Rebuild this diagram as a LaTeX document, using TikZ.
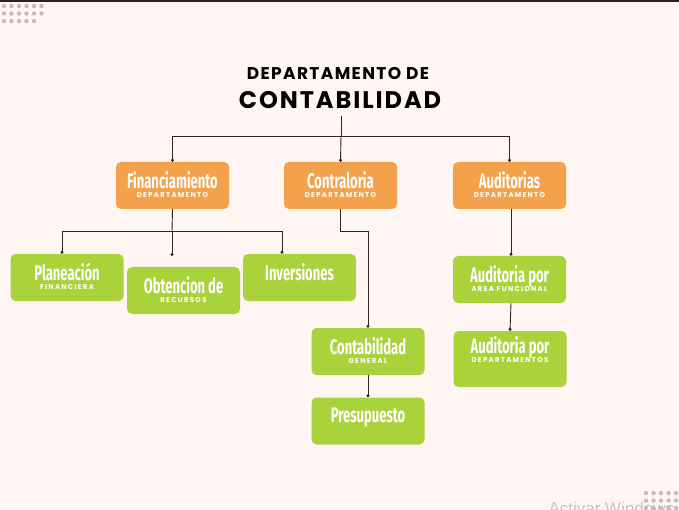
\documentclass[tikz,border=0pt]{standalone}
\usepackage{fontspec}
\setmainfont{Poppins}
\newfontfamily\headfont[LetterSpace=8]{Poppins}
\newfontfamily\smallfont[LetterSpace=18]{Poppins}
\newfontfamily\boxfont[FakeStretch=0.62]{Fira Sans}
\usetikzlibrary{arrows.meta}
\definecolor{fondo}{HTML}{FFF5F3}
\definecolor{naranja}{HTML}{F4A14B}
\definecolor{verde}{HTML}{A9D23B}
\definecolor{puntos}{HTML}{C9B9B9}
\definecolor{marca}{HTML}{C8C4C4}

\tikzset{
  caja/.style={rounded corners=5pt, minimum width=113pt, minimum height=47pt,
    inner sep=0pt, text=white, align=center},
  dep/.style={caja, fill=naranja},
  area/.style={caja, fill=verde},
  linea/.style={black!85, line width=0.9pt},
  flecha/.style={linea, -{Circle[length=3pt]}},
}
\newcommand{\cajatexto}[2]{{\boxfont\bfseries\fontsize{21}{22}\selectfont #1}\\[-3pt]%
  {\smallfont\bfseries\fontsize{7}{7.5}\selectfont\strut #2}}

\begin{document}
\begin{tikzpicture}[x=1pt,y=-1pt]
\fill[fondo] (0,0) rectangle (679,510);
\useasboundingbox (0,0) rectangle (679,510);
\fill[black!85] (0,0) rectangle (679,2);
% puntos
\foreach \i in {0,...,5}{
  \fill[puntos] (4+7.5*\i,6) circle (2.2);
  \fill[puntos] (4+7.5*\i,13.5) circle (2.2);}
\foreach \i in {0,...,4}
  \fill[puntos] (4+7.5*\i,21) circle (2.2);
\node[text=marca, anchor=base west, font=\fontsize{17}{18}\selectfont\fontspec{Liberation Sans}] (aviso) at (545,514) {Activar Windows};
\foreach \i in {0,...,4}{
  \fill[puntos] (646+7.5*\i,493) circle (2.2);
  \fill[puntos] (646+7.5*\i,500.5) circle (2.2);
  \fill[puntos] (646+7.5*\i,508) circle (2.2);}

% titulo
\node (tit1) at (338,74) {\headfont\bfseries\fontsize{17}{18}\selectfont DEPARTAMENTO DE};
\node (tit2) at (340,100) {\headfont\bfseries\fontsize{24}{26}\selectfont CONTABILIDAD};
\node[text=white] (dir) at (341,146) {\smallfont\fontsize{6}{7}\selectfont DIRECTOR};

% departamentos
\node[dep] (fin) at (172.5,185.5) {\cajatexto{Financiamiento}{DEPARTAMENTO}};
\node[dep] (con) at (340.5,185.5) {\cajatexto{Contraloria}{DEPARTAMENTO}};
\node[dep] (aud) at (509.5,185.5) {\cajatexto{Auditorias}{DEPARTAMENTO}};

% areas
\node[area] (plan) at (67,277.5) {\cajatexto{Planeación}{FINANCIERA}};
\node[area] (obt) at (183.5,290.5) {\cajatexto{Obtencion de}{RECURSOS}};
\node[area] (inv) at (299.5,277.5) {\cajatexto{Inversiones}{}};
\node[area] (cg) at (368,351.5) {\cajatexto{Contabilidad}{GENERAL}};
\node[area] (pre) at (368,421) {\cajatexto{Presupuesto}{}};
\node[area] (af) at (509.5,279.5) {\cajatexto{Auditoria por}{AREA FUNCIONAL}};
\node[area, minimum height=56pt] (ad) at (510,359) {\cajatexto{Auditoria por}{DEPARTAMENTOS}\\[8pt]};

% lineas
\coordinate (raiz) at (341,116);
\coordinate (bus) at (341,136);
\coordinate (finbus) at (172,231);
\coordinate (obtpunto) at (172,256);
\coordinate (conbus) at (368,231);
\draw[linea] (raiz) -- (bus);
\draw[flecha] (bus) -| (fin.north);
\draw[flecha] (bus) -- (con.north);
\draw[flecha] (bus) -| (aud.north);
\draw[linea] (fin.south) -- (finbus);
\draw[flecha] (finbus) -| ([xshift=-5]plan.north);
\draw[flecha] (finbus) -- (obtpunto);
\draw[flecha] (finbus) -| ([xshift=-17.5]inv.north);
\draw[flecha] (con.south) |- (conbus) -- (cg.north);
\draw[flecha] (cg.south) -- (pre.north);
\draw[flecha] ([xshift=1.5]aud.south) -- ([xshift=1.5]af.north);
\draw[flecha] ([xshift=1.5]af.south) -- (ad.north);
\end{tikzpicture}
\end{document}
